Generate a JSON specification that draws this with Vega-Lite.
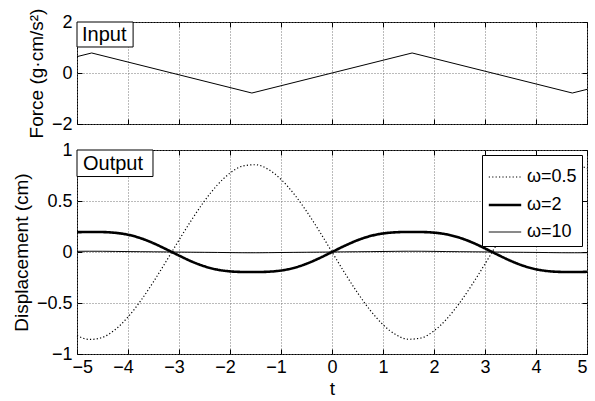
{
  "$schema": "https://vega.github.io/schema/vega-lite/v6.json",
  "padding": {"left": 11, "top": 7, "right": 5, "bottom": 2},
  "background": "white",
  "bounds": "flush",
  "spacing": 26,
  "resolve": {"legend": {"strokeDash": "independent", "strokeWidth": "independent"}},
  "config": {
    "font": "Liberation Sans",
    "view": {"stroke": "black", "strokeWidth": 1},
    "axis": {
      "labelFont": "Liberation Sans", "labelFontSize": 18, "labelColor": "black",
      "titleFont": "Liberation Sans", "titleFontSize": 19, "titleFontWeight": "normal", "titleColor": "black",
      "domain": false, "tickColor": "black", "tickSize": -5, "labelPadding": 10,
      "gridColor": "#777777", "gridDash": [1, 2], "gridOpacity": 1, "gridWidth": 1
    },
    "axisLeft": {"titlePadding": 5},
    "legend": {
      "offset": 5, "fillColor": "white", "strokeColor": "black",
      "padding": 5, "labelFont": "Liberation Sans", "labelFontSize": 18, "labelColor": "black", "labelOffset": 4,
      "symbolType": "stroke", "symbolSize": 1050, "symbolStrokeColor": "black", "rowPadding": 1
    }
  },
  "datasets": {
    "force": [
      {"t": -5, "f": 0.642}, {"t": -4.712, "f": 0.785}, {"t": -1.571, "f": -0.785},
      {"t": 1.571, "f": 0.785}, {"t": 4.712, "f": -0.785}, {"t": 5, "f": -0.642}
    ],
    "disp": [
      {"t": -5, "w": "ω=0.5", "x": -0.8194}, {"t": -4.75, "w": "ω=0.5", "x": -0.8573}, {"t": -4.5, "w": "ω=0.5", "x": -0.8368}, {"t": -4.25, "w": "ω=0.5", "x": -0.7605},
      {"t": -4, "w": "ω=0.5", "x": -0.6371}, {"t": -3.75, "w": "ω=0.5", "x": -0.4774}, {"t": -3.5, "w": "ω=0.5", "x": -0.2916}, {"t": -3.25, "w": "ω=0.5", "x": -0.0898},
      {"t": -3, "w": "ω=0.5", "x": 0.1171}, {"t": -2.75, "w": "ω=0.5", "x": 0.3172}, {"t": -2.5, "w": "ω=0.5", "x": 0.5004}, {"t": -2.25, "w": "ω=0.5", "x": 0.6558},
      {"t": -2, "w": "ω=0.5", "x": 0.7735}, {"t": -1.75, "w": "ω=0.5", "x": 0.8428}, {"t": -1.5, "w": "ω=0.5", "x": 0.8556}, {"t": -1.25, "w": "ω=0.5", "x": 0.8101},
      {"t": -1, "w": "ω=0.5", "x": 0.7121}, {"t": -0.75, "w": "ω=0.5", "x": 0.5717}, {"t": -0.5, "w": "ω=0.5", "x": 0.3995}, {"t": -0.25, "w": "ω=0.5", "x": 0.2055},
      {"t": 0, "w": "ω=0.5", "x": 0},
      {"t": 0.25, "w": "ω=0.5", "x": -0.2055}, {"t": 0.5, "w": "ω=0.5", "x": -0.3995}, {"t": 0.75, "w": "ω=0.5", "x": -0.5717}, {"t": 1, "w": "ω=0.5", "x": -0.7121},
      {"t": 1.25, "w": "ω=0.5", "x": -0.8101}, {"t": 1.5, "w": "ω=0.5", "x": -0.8556}, {"t": 1.75, "w": "ω=0.5", "x": -0.8428}, {"t": 2, "w": "ω=0.5", "x": -0.7735},
      {"t": 2.25, "w": "ω=0.5", "x": -0.6558}, {"t": 2.5, "w": "ω=0.5", "x": -0.5004}, {"t": 2.75, "w": "ω=0.5", "x": -0.3172}, {"t": 3, "w": "ω=0.5", "x": -0.1171},
      {"t": 3.25, "w": "ω=0.5", "x": 0.0898}, {"t": 3.5, "w": "ω=0.5", "x": 0.2916}, {"t": 3.75, "w": "ω=0.5", "x": 0.4774}, {"t": 4, "w": "ω=0.5", "x": 0.6371},
      {"t": 4.25, "w": "ω=0.5", "x": 0.7605}, {"t": 4.5, "w": "ω=0.5", "x": 0.8368}, {"t": 4.75, "w": "ω=0.5", "x": 0.8573}, {"t": 5, "w": "ω=0.5", "x": 0.8194},

      {"t": -5, "w": "ω=2", "x": 0.1941}, {"t": -4.75, "w": "ω=2", "x": 0.1968}, {"t": -4.5, "w": "ω=2", "x": 0.1955}, {"t": -4.25, "w": "ω=2", "x": 0.1882},
      {"t": -4, "w": "ω=2", "x": 0.1693}, {"t": -3.75, "w": "ω=2", "x": 0.1349}, {"t": -3.5, "w": "ω=2", "x": 0.0857}, {"t": -3.25, "w": "ω=2", "x": 0.0269},
      {"t": -3, "w": "ω=2", "x": -0.035}, {"t": -2.75, "w": "ω=2", "x": -0.0933}, {"t": -2.5, "w": "ω=2", "x": -0.1404}, {"t": -2.25, "w": "ω=2", "x": -0.1727},
      {"t": -2, "w": "ω=2", "x": -0.1897}, {"t": -1.75, "w": "ω=2", "x": -0.1959}, {"t": -1.5, "w": "ω=2", "x": -0.1967}, {"t": -1.25, "w": "ω=2", "x": -0.1933},
      {"t": -1, "w": "ω=2", "x": -0.1817}, {"t": -0.75, "w": "ω=2", "x": -0.1564}, {"t": -0.5, "w": "ω=2", "x": -0.1151}, {"t": -0.25, "w": "ω=2", "x": -0.061},
      {"t": 0, "w": "ω=2", "x": 0},
      {"t": 0.25, "w": "ω=2", "x": 0.061}, {"t": 0.5, "w": "ω=2", "x": 0.1151}, {"t": 0.75, "w": "ω=2", "x": 0.1564}, {"t": 1, "w": "ω=2", "x": 0.1817},
      {"t": 1.25, "w": "ω=2", "x": 0.1933}, {"t": 1.5, "w": "ω=2", "x": 0.1967}, {"t": 1.75, "w": "ω=2", "x": 0.1959}, {"t": 2, "w": "ω=2", "x": 0.1897},
      {"t": 2.25, "w": "ω=2", "x": 0.1727}, {"t": 2.5, "w": "ω=2", "x": 0.1404}, {"t": 2.75, "w": "ω=2", "x": 0.0933}, {"t": 3, "w": "ω=2", "x": 0.035},
      {"t": 3.25, "w": "ω=2", "x": -0.0269}, {"t": 3.5, "w": "ω=2", "x": -0.0857}, {"t": 3.75, "w": "ω=2", "x": -0.1349}, {"t": 4, "w": "ω=2", "x": -0.1693},
      {"t": 4.25, "w": "ω=2", "x": -0.1882}, {"t": 4.5, "w": "ω=2", "x": -0.1955}, {"t": 4.75, "w": "ω=2", "x": -0.1968}, {"t": 5, "w": "ω=2", "x": -0.1941},

      {"t": -5, "w": "ω=10", "x": 0.0067}, {"t": -4.75, "w": "ω=10", "x": 0.0075}, {"t": -4.5, "w": "ω=10", "x": 0.0071}, {"t": -4.25, "w": "ω=10", "x": 0.0057},
      {"t": -4, "w": "ω=10", "x": 0.0041}, {"t": -3.75, "w": "ω=10", "x": 0.003}, {"t": -3.5, "w": "ω=10", "x": 0.0019}, {"t": -3.25, "w": "ω=10", "x": 0.0006},
      {"t": -3, "w": "ω=10", "x": -0.0008}, {"t": -2.75, "w": "ω=10", "x": -0.002}, {"t": -2.5, "w": "ω=10", "x": -0.0031}, {"t": -2.25, "w": "ω=10", "x": -0.0043},
      {"t": -2, "w": "ω=10", "x": -0.0059}, {"t": -1.75, "w": "ω=10", "x": -0.0072}, {"t": -1.5, "w": "ω=10", "x": -0.0075}, {"t": -1.25, "w": "ω=10", "x": -0.0065},
      {"t": -1, "w": "ω=10", "x": -0.005}, {"t": -0.75, "w": "ω=10", "x": -0.0036}, {"t": -0.5, "w": "ω=10", "x": -0.0025}, {"t": -0.25, "w": "ω=10", "x": -0.0014},
      {"t": 0, "w": "ω=10", "x": 0},
      {"t": 0.25, "w": "ω=10", "x": 0.0014}, {"t": 0.5, "w": "ω=10", "x": 0.0025}, {"t": 0.75, "w": "ω=10", "x": 0.0036}, {"t": 1, "w": "ω=10", "x": 0.005},
      {"t": 1.25, "w": "ω=10", "x": 0.0065}, {"t": 1.5, "w": "ω=10", "x": 0.0075}, {"t": 1.75, "w": "ω=10", "x": 0.0072}, {"t": 2, "w": "ω=10", "x": 0.0059},
      {"t": 2.25, "w": "ω=10", "x": 0.0043}, {"t": 2.5, "w": "ω=10", "x": 0.0031}, {"t": 2.75, "w": "ω=10", "x": 0.002}, {"t": 3, "w": "ω=10", "x": 0.0008},
      {"t": 3.25, "w": "ω=10", "x": -0.0006}, {"t": 3.5, "w": "ω=10", "x": -0.0019}, {"t": 3.75, "w": "ω=10", "x": -0.003}, {"t": 4, "w": "ω=10", "x": -0.0041},
      {"t": 4.25, "w": "ω=10", "x": -0.0057}, {"t": 4.5, "w": "ω=10", "x": -0.0071}, {"t": 4.75, "w": "ω=10", "x": -0.0075}, {"t": 5, "w": "ω=10", "x": -0.0067}
    ]
  },
  "vconcat": [
    {
      "width": 510, "height": 102,
      "resolve": {"axis": {"x": "independent", "y": "independent"}},
      "layer": [
        {
          "data": {"name": "force"},
          "mark": {"type": "line", "color": "black", "strokeWidth": 1},
          "encoding": {
            "x": {"field": "t", "type": "quantitative", "scale": {"domain": [-5, 5], "nice": false},
                  "axis": {"labels": false, "title": null, "values": [-5, -4, -3, -2, -1, 0, 1, 2, 3, 4, 5]}},
            "y": {"field": "f", "type": "quantitative", "scale": {"domain": [-2, 2], "nice": false},
                  "axis": {"title": "Force (g·cm/s²)", "values": [-2, 0, 2], "format": "~g"}}
          }
        },
        {
          "data": {"name": "force"},
          "mark": {"type": "line", "opacity": 0},
          "encoding": {
            "x": {"field": "t", "type": "quantitative",
                  "axis": {"orient": "top", "labels": false, "grid": false, "title": null, "values": [-5, -4, -3, -2, -1, 0, 1, 2, 3, 4, 5]}},
            "y": {"field": "f", "type": "quantitative",
                  "axis": {"orient": "right", "labels": false, "grid": false, "title": null, "values": [-2, 0, 2]}}
          }
        },
        {
          "data": {"values": [{}]},
          "mark": {"type": "rect", "fill": "white", "stroke": "black", "strokeWidth": 1},
          "encoding": {"x": {"datum": -5, "axis": null}, "x2": {"datum": -3.9}, "y": {"datum": 2, "axis": null}, "y2": {"datum": 1.02}}
        },
        {
          "data": {"values": [{}]},
          "mark": {"type": "text", "text": "Input", "align": "left", "baseline": "middle", "dx": 5, "dy": 1, "fontSize": 20, "font": "Liberation Sans", "color": "black"},
          "encoding": {"x": {"datum": -5, "axis": null}, "y": {"datum": 1.51, "axis": null}}
        }
      ]
    },
    {
      "width": 510, "height": 204,
      "resolve": {"axis": {"x": "independent", "y": "independent"}},
      "layer": [
        {
          "data": {"name": "disp"},
          "mark": {"type": "line", "color": "black", "interpolate": "monotone"},
          "encoding": {
            "x": {"field": "t", "type": "quantitative", "scale": {"domain": [-5, 5], "nice": false},
                  "axis": {"title": "t", "titlePadding": 3, "labelPadding": 9, "values": [-5, -4, -3, -2, -1, 0, 1, 2, 3, 4, 5], "format": "~g",
                           "labelOffset": {"condition": {"test": "datum.value < 0", "value": -5}, "value": 0}}},
            "y": {"field": "x", "type": "quantitative", "scale": {"domain": [-1, 1], "nice": false},
                  "axis": {"title": "Displacement (cm)", "values": [-1, -0.5, 0, 0.5, 1], "format": "~g"}},
            "strokeDash": {"field": "w", "type": "nominal", "scale": {"type": "ordinal", "domain": ["ω=0.5", "ω=2", "ω=10"], "range": [[1.2, 2.2], [1, 0], [1, 0]]}, "legend": {"title": null, "orient": "top-right"}},
            "strokeWidth": {"field": "w", "type": "nominal", "scale": {"type": "ordinal", "domain": ["ω=0.5", "ω=2", "ω=10"], "range": [1.2, 2.6, 1]}, "legend": {"title": null, "orient": "top-right"}}
          }
        },
        {
          "data": {"name": "disp"},
          "mark": {"type": "point", "opacity": 0},
          "encoding": {
            "x": {"field": "t", "type": "quantitative",
                  "axis": {"orient": "top", "labels": false, "grid": false, "title": null, "values": [-5, -4, -3, -2, -1, 0, 1, 2, 3, 4, 5]}},
            "y": {"field": "x", "type": "quantitative",
                  "axis": {"orient": "right", "labels": false, "grid": false, "title": null, "values": [-1, -0.5, 0, 0.5, 1]}}
          }
        },
        {
          "data": {"values": [{}]},
          "mark": {"type": "rect", "fill": "white", "stroke": "black", "strokeWidth": 1},
          "encoding": {"x": {"datum": -5, "axis": null}, "x2": {"datum": -3.51}, "y": {"datum": 1, "axis": null}, "y2": {"datum": 0.74}}
        },
        {
          "data": {"values": [{}]},
          "mark": {"type": "text", "text": "Output", "align": "left", "baseline": "middle", "dx": 6, "dy": 1, "fontSize": 20, "font": "Liberation Sans", "color": "black"},
          "encoding": {"x": {"datum": -5, "axis": null}, "y": {"datum": 0.87, "axis": null}}
        }
      ]
    }
  ]
}
